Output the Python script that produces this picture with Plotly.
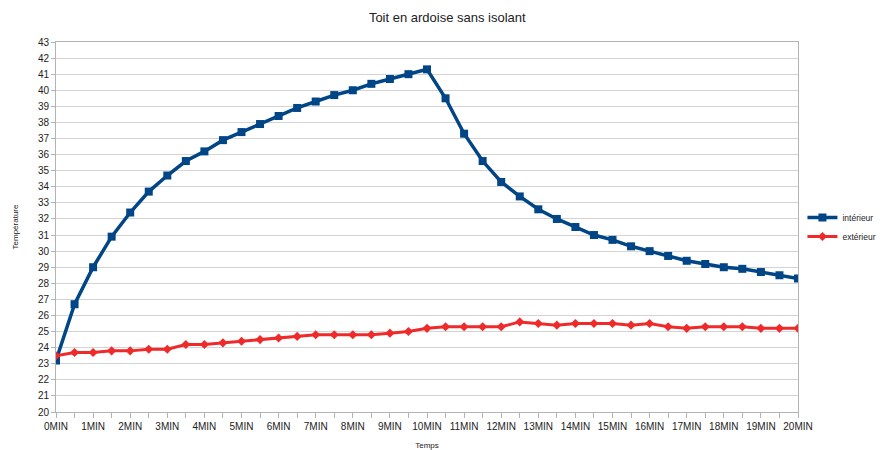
import plotly.graph_objects as go

# Time in minutes (one reading every 30 s)
minutes = [0, 0.5, 1, 1.5, 2, 2.5, 3, 3.5, 4, 4.5, 5, 5.5, 6, 6.5, 7, 7.5, 8, 8.5, 9, 9.5,
           10, 10.5, 11, 11.5, 12, 12.5, 13, 13.5, 14, 14.5, 15, 15.5, 16, 16.5, 17, 17.5,
           18, 18.5, 19, 19.5, 20]

interieur = [23.2, 26.7, 29.0, 30.9, 32.4, 33.7, 34.7, 35.6, 36.2, 36.9, 37.4, 37.9, 38.4,
             38.9, 39.3, 39.7, 40.0, 40.4, 40.7, 41.0, 41.3, 39.5, 37.3, 35.6, 34.3, 33.4,
             32.6, 32.0, 31.5, 31.0, 30.7, 30.3, 30.0, 29.7, 29.4, 29.2, 29.0, 28.9, 28.7,
             28.5, 28.3]

exterieur = [23.5, 23.7, 23.7, 23.8, 23.8, 23.9, 23.9, 24.2, 24.2, 24.3, 24.4, 24.5, 24.6,
             24.7, 24.8, 24.8, 24.8, 24.8, 24.9, 25.0, 25.2, 25.3, 25.3, 25.3, 25.3, 25.6,
             25.5, 25.4, 25.5, 25.5, 25.5, 25.4, 25.5, 25.3, 25.2, 25.3, 25.3, 25.3, 25.2,
             25.2, 25.2]

tick_minutes = list(range(0, 21))
tick_labels = [f"{m}MIN" for m in tick_minutes]
y_ticks = list(range(20, 44))

fig = go.Figure()
fig.add_trace(go.Scatter(
    x=minutes, y=interieur, name="intérieur", mode="lines+markers",
    line=dict(color="#004586", width=3.5),
    marker=dict(symbol="square", size=8, color="#004586"),
))
fig.add_trace(go.Scatter(
    x=minutes, y=exterieur, name="extérieur", mode="lines+markers",
    line=dict(color="#ee2a2a", width=3),
    marker=dict(symbol="diamond", size=7, color="#ee2a2a"),
))

fig.update_layout(
    width=891, height=450,
    margin=dict(l=56, r=93, t=42, b=38, autoexpand=False),
    paper_bgcolor="white", plot_bgcolor="white",
    font=dict(family="Liberation Sans, Arial, sans-serif", size=10, color="#222222"),
    title=dict(text="Toit en ardoise sans isolant", x=0.502, xanchor="center",
               y=0.962, yanchor="middle", font=dict(size=13, color="#222222")),
    showlegend=True,
    legend=dict(x=1.006, xanchor="left", y=0.5, yanchor="middle",
                font=dict(size=8.5), tracegroupgap=0, itemwidth=30,
                bgcolor="rgba(0,0,0,0)"),
    xaxis=dict(
        range=[0, 20], tickmode="array", tickvals=tick_minutes, ticktext=tick_labels,
        showgrid=False, zeroline=False, showline=True, linecolor="#b3b3b3", mirror=True,
        ticks="outside", ticklen=5, tickcolor="#b3b3b3", tickfont=dict(size=10),
        minor=dict(dtick=0.5, ticks="outside", ticklen=5, tickcolor="#b3b3b3"),
        title=dict(text="Temps", font=dict(size=8), standoff=22), automargin=False,
    ),
    yaxis=dict(
        range=[20, 43], tickmode="array", tickvals=y_ticks,
        showgrid=True, gridcolor="#d4d4d4", gridwidth=1, zeroline=False,
        showline=True, linecolor="#b3b3b3", mirror=True,
        ticks="outside", ticklen=4, tickcolor="#b3b3b3", tickfont=dict(size=10),
        title=dict(text="Température", font=dict(size=8), standoff=18), automargin=False,
    ),
)

fig.write_html("out.html")
